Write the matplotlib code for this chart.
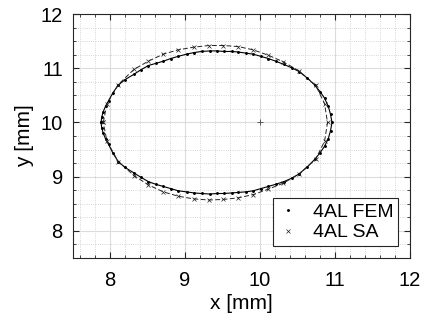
import matplotlib
matplotlib.use("Agg")
import matplotlib.pyplot as plt
from matplotlib.ticker import MultipleLocator

plt.rcParams['font.family'] = ['Liberation Sans', 'DejaVu Sans']

# FEM contour, going round from the left end
fem_x = [7.88, 7.89, 7.91, 7.94, 7.98, 8.04, 8.11, 8.20, 8.32, 8.41, 8.51, 8.61, 8.71, 8.81, 8.91,
         9.02, 9.12, 9.22, 9.33, 9.43, 9.52, 9.62, 9.71, 9.81, 9.91, 10.01, 10.11, 10.21,
         10.32, 10.42, 10.52, 10.63, 10.73, 10.80, 10.86, 10.91, 10.94, 10.96,
         10.94, 10.91, 10.86, 10.80, 10.73, 10.63, 10.52, 10.42, 10.32, 10.21, 10.11, 10.01,
         9.91, 9.81, 9.71, 9.62, 9.52, 9.43, 9.33, 9.22, 9.12, 9.02, 8.91, 8.81, 8.71, 8.61,
         8.51, 8.41, 8.32, 8.20, 8.11, 8.04, 7.98, 7.94, 7.91, 7.89, 7.88]
fem_y = [10.00, 10.10, 10.20, 10.30, 10.40, 10.55, 10.69, 10.79, 10.89, 10.97, 11.05, 11.09, 11.13,
         11.18, 11.22, 11.26, 11.29, 11.31, 11.32, 11.32, 11.31, 11.31, 11.30, 11.28, 11.26,
         11.22, 11.18, 11.13, 11.07, 11.01, 10.94, 10.82, 10.69, 10.57, 10.45, 10.30, 10.15, 10.00,
         9.85, 9.70, 9.56, 9.44, 9.32, 9.18, 9.05, 8.97, 8.91, 8.86, 8.82, 8.78, 8.74, 8.72,
         8.71, 8.70, 8.69, 8.69, 8.68, 8.69, 8.70, 8.72, 8.74, 8.78, 8.82, 8.86, 8.91, 8.99,
         9.07, 9.17, 9.28, 9.43, 9.60, 9.70, 9.80, 9.90, 10.00]

# SA contour
sa_x = [7.91, 7.96, 8.11, 8.32, 8.51, 8.71, 8.91, 9.12, 9.32, 9.51, 9.71, 9.91, 10.11, 10.31,
        10.52, 10.74, 10.86, 10.90, 10.86, 10.74, 10.52, 10.31, 10.11, 9.91, 9.71, 9.51, 9.32,
        9.12, 8.91, 8.71, 8.51, 8.32, 8.11, 7.96, 7.91]
sa_y = [10.00, 10.35, 10.70, 10.98, 11.13, 11.26, 11.34, 11.39, 11.42, 11.42, 11.40, 11.34,
        11.24, 11.12, 10.95, 10.69, 10.35, 10.00, 9.65, 9.32, 9.05, 8.88, 8.77, 8.67, 8.61,
        8.58, 8.57, 8.59, 8.64, 8.72, 8.85, 9.02, 9.28, 9.65, 10.00]

centre = (10.0, 10.0)

fig = plt.figure(figsize=(4.28, 3.27), dpi=100)
ax = fig.add_axes([0.1694, 0.211, 0.7886, 0.746])

ax.plot(fem_x, fem_y, '-', color='black', lw=0.8)
ax.plot(sa_x, sa_y, '--', color='#222222', lw=0.7, dashes=(5, 2.5))
ax.plot(fem_x, fem_y, '.', color='black', ms=2.2, ls='none', label='4AL FEM')
ax.plot(sa_x, sa_y, 'x', color='#222222', ms=3.5, mew=0.5, ls='none', label='4AL SA')
ax.plot(centre[0], centre[1], '+', color='#555555', ms=5, mew=0.7)

ax.set_xlim(7.5, 12)
ax.set_ylim(7.5, 12)
ax.xaxis.set_major_locator(MultipleLocator(1))
ax.yaxis.set_major_locator(MultipleLocator(1))
ax.xaxis.set_minor_locator(MultipleLocator(0.2))
ax.yaxis.set_minor_locator(MultipleLocator(0.25))
ax.grid(True, which='major', color='#dcdcdc', lw=0.8)
ax.grid(True, which='minor', color='#c8c8c8', lw=0.6, ls=':')
ax.set_axisbelow(True)
ax.tick_params(which='both', direction='in', top=True, right=True, labelsize=14.5,
               color='#262626', labelcolor='black')
ax.tick_params(which='major', length=4)
ax.tick_params(which='minor', length=2)
ax.tick_params(axis='x', which='major', pad=9)
ax.tick_params(axis='y', which='major', pad=7)
for s in ax.spines.values():
    s.set_color('#262626')
    s.set_linewidth(0.8)

ax.set_xlabel('x [mm]', fontsize=15, labelpad=3)
ax.set_ylabel('y [mm]', fontsize=15, labelpad=5)

leg = ax.legend(loc='lower right', fontsize=14, fancybox=False, framealpha=1,
                edgecolor='#262626', borderaxespad=0.6, handlelength=1.0,
                handletextpad=0.8, borderpad=0.25, labelspacing=0.15)
leg.get_frame().set_linewidth(0.8)

fig.savefig('out.png', dpi=100)
